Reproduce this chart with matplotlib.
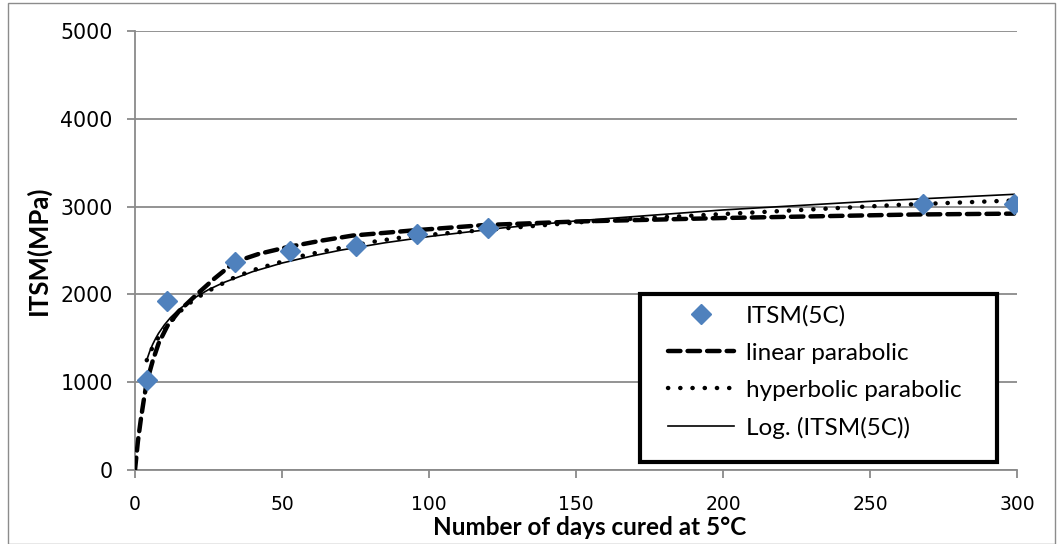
import matplotlib
matplotlib.use("Agg")
import matplotlib.pyplot as plt
from matplotlib import font_manager
from matplotlib.patches import Rectangle

# ---- data ----
days = [4, 11, 34, 52.7, 75, 96, 120, 268, 299]
itsm = [1025, 1925, 2366, 2494, 2551, 2684, 2760, 3026, 3026]

lin_x = [0, 1, 2, 3, 4, 6, 8, 11, 15, 21, 27, 34, 42, 52, 63, 74, 95, 119, 150, 200, 265, 299]
lin_y = [0, 330, 580, 800, 1000, 1240, 1440, 1640, 1810, 2000, 2180, 2370, 2460, 2540, 2610, 2670,
         2730, 2790, 2830, 2870, 2910, 2920]

hyp_x = [4, 6, 8, 11, 14, 17, 21, 25, 29, 33, 37, 41, 46, 57, 66, 82, 91, 107, 123, 160, 220, 260, 299]
hyp_y = [1250, 1400, 1510, 1640, 1760, 1860, 1960, 2040, 2110, 2180, 2235, 2285, 2335, 2440, 2505,
         2605, 2650, 2700, 2745, 2845, 2950, 3020, 3070]

log_x = [4, 5, 6, 7, 8, 10, 12, 15, 20, 25, 30, 40, 50, 60, 70, 85, 100, 125, 150, 200, 250, 299]
log_y = [1253, 1350, 1430, 1497, 1556, 1653, 1733, 1830, 1956, 2054, 2133, 2259, 2357, 2436, 2504,
         2588, 2659, 2757, 2837, 2962, 3060, 3140]

xticks = [0, 50, 100, 150, 200, 250, 300]
yticks = [0, 1000, 2000, 3000, 4000, 5000]

# ---- fonts ----
avail = {f.name for f in font_manager.fontManager.ttflist}
base = 'Lato' if 'Lato' in avail else 'DejaVu Sans'
plt.rcParams['font.family'] = [base, 'DejaVu Sans']

W, H = 1061, 544
fig = plt.figure(figsize=(W / 100, H / 100), dpi=100)
fig.patches.append(Rectangle((8 / W, 0), (1055 - 8) / W, 541 / H, transform=fig.transFigure,
                             fill=False, edgecolor='#8c8c8c', lw=1.0))
AX_L, AX_R, AX_T, AX_B = 135, 1017, 31, 470
ax = fig.add_axes([AX_L / W, 1 - AX_B / H, (AX_R - AX_L) / W, (AX_B - AX_T) / H])


def axfrac(px, py):
    return (px - AX_L) / (AX_R - AX_L), (AX_B - py) / (AX_B - AX_T)


grid_c = '#8a8a8a'
ax.set_xlim(0, 300)
ax.set_ylim(0, 5000)
ax.set_yticks(yticks)
ax.set_xticks(xticks)
ax.yaxis.grid(True, color=grid_c, lw=1.3)
ax.set_axisbelow(True)
for s in ['top', 'right']:
    ax.spines[s].set_visible(False)
for s in ['left', 'bottom']:
    ax.spines[s].set_color(grid_c)
    ax.spines[s].set_linewidth(1.3)
ax.tick_params(axis='both', colors=grid_c, length=6, width=1.3, labelcolor='black')
ax.tick_params(axis='y', labelsize=14.8, pad=10)
ax.tick_params(axis='x', labelsize=13.5, pad=12)
for lbl in ax.get_xticklabels() + ax.get_yticklabels():
    lbl.set_family(['DejaVu Sans'])

l1, = ax.plot(lin_x, lin_y, color='black', lw=3.2, linestyle=(0, (2.8, 1.6)),
              dash_capstyle='round', label='linear parabolic', zorder=3)
l2, = ax.plot(hyp_x, hyp_y, color='black', lw=3.2, linestyle=(0, (0.05, 2.7)),
              dash_capstyle='round', label='hyperbolic parabolic', zorder=3)
l3, = ax.plot(log_x, log_y, color='black', lw=1.2, label='Log. (ITSM(5C))', zorder=3)
sc, = ax.plot(days, itsm, linestyle='none', marker='D', ms=10.5, color='#4F81BD',
              label='ITSM(5C)', zorder=4)

ax.set_xlabel('Number of days cured at 5°C', fontsize=17.5, fontweight='bold')
ax.xaxis.set_label_coords(*axfrac(590, 516))
ax.set_ylabel('ITSM(MPa)', fontsize=18.5, fontweight='bold')
ax.yaxis.set_label_coords(*axfrac(38, 250))
ax.yaxis.label.set_va('center')

# legend box
bx0, by0 = axfrac(640, 462)
bx1, by1 = axfrac(997, 294)
ax.add_patch(Rectangle((bx0, by0), bx1 - bx0, by1 - by0, transform=ax.transAxes,
                       facecolor='white', edgecolor='black', lw=3, zorder=5, clip_on=False))
leg = ax.legend(handles=[sc, l1, l2, l3], loc='upper left',
                bbox_to_anchor=axfrac(668, 305), fontsize=17.5, frameon=False,
                handlelength=2.7, handletextpad=0.5, borderpad=0, labelspacing=0.66,
                borderaxespad=0)
leg.set_zorder(6)

fig.savefig('out.png', dpi=100)
